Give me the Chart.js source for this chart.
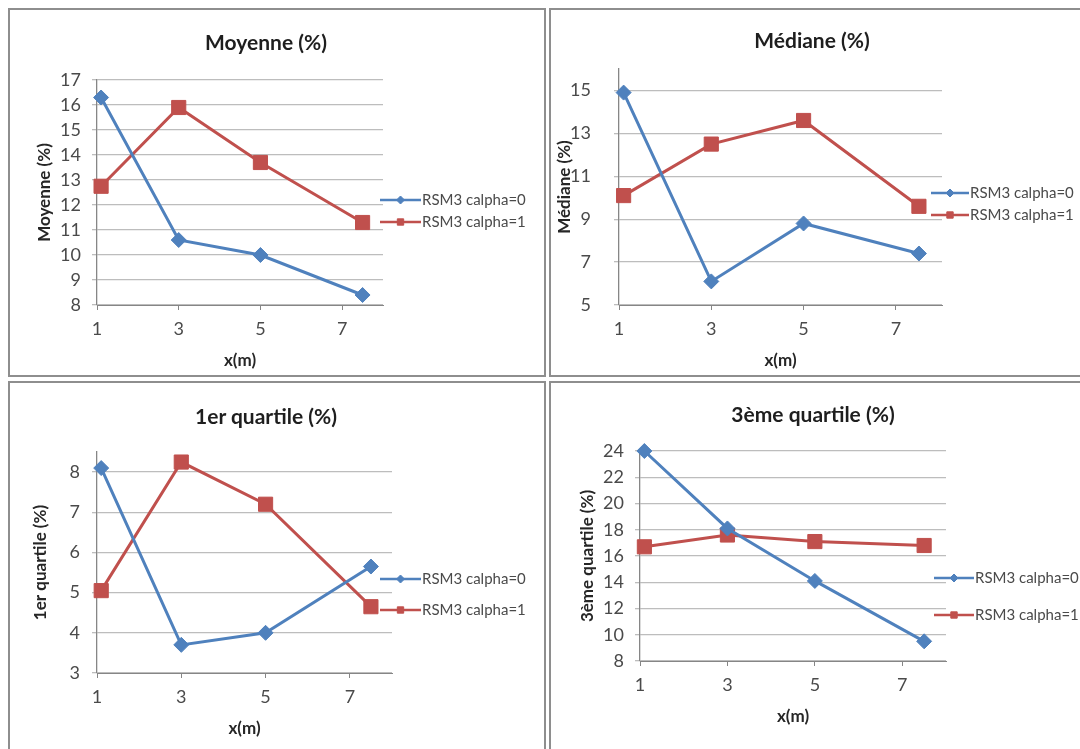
<!DOCTYPE html>
<html>
<head>
<meta charset="utf-8">
<title>RSM3 calpha</title>
<script src="https://cdn.jsdelivr.net/npm/chart.js@4.4.1/dist/chart.umd.min.js"></script>
<style>
  body { margin: 0; width: 1080px; height: 749px; overflow: hidden; background: #fff; position: relative; font-family: Lato, sans-serif; }
  .panel { position: absolute; box-sizing: border-box; border: 2px solid #8e8e8e; background: #fff; overflow: hidden; }
  .panel canvas { position: absolute; left: 0; top: 0; }
  .title { position: absolute; font: bold 21px Lato, sans-serif; color: #1e1e1e; transform: translate(-50%, -50%); white-space: nowrap; }
</style>
</head>
<body>
<div class="panel" style="left:8px;top:8px;width:538px;height:369px"><canvas id="c1" width="534" height="365"></canvas></div>
<div class="panel" style="left:549px;top:8px;width:540px;height:369px"><canvas id="c2" width="536" height="365"></canvas></div>
<div class="panel" style="left:8px;top:381px;width:538px;height:380px"><canvas id="c3" width="534" height="376"></canvas></div>
<div class="panel" style="left:549px;top:381px;width:540px;height:380px"><canvas id="c4" width="536" height="376"></canvas></div>

<div class="title" style="left:266px;top:41px">Moyenne (%)</div>
<div class="title" style="left:812px;top:39px">Médiane (%)</div>
<div class="title" style="left:266px;top:415px">1er quartile (%)</div>
<div class="title" style="left:813px;top:413px">3ème quartile (%)</div>

<script>
// données
const seriesNames = ['RSM3 calpha=0', 'RSM3 calpha=1'];
const xValues = [1.1, 3, 5, 7.5];
const xTicks = [1, 3, 5, 7];

const moyenneC0 = [16.3, 10.6, 10.0, 8.4];
const moyenneC1 = [12.75, 15.9, 13.7, 11.3];
const moyenneTicks = [8, 9, 10, 11, 12, 13, 14, 15, 16, 17];

const medianeC0 = [14.9, 6.1, 8.8, 7.4];
const medianeC1 = [10.1, 12.5, 13.6, 9.6];
const medianeTicks = [5, 7, 9, 11, 13, 15];

const q1C0 = [8.1, 3.7, 4.0, 5.65];
const q1C1 = [5.05, 8.25, 7.2, 4.65];
const q1Ticks = [3, 4, 5, 6, 7, 8];

const q3C0 = [24.0, 18.1, 14.1, 9.5];
const q3C1 = [16.7, 17.6, 17.1, 16.8];
const q3Ticks = [8, 10, 12, 14, 16, 18, 20, 22, 24];

const BLUE = '#4f81bd';
const RED = '#c0504d';
const GRID = '#bdbdbd';
const AXIS = '#868686';
const TEXT = '#4a4a4a';

// légende façon Excel (trait + marqueur)
const excelLegend = {
  id: 'excelLegend',
  afterDraw(chart, args, opts) {
    const ctx = chart.ctx;
    chart.data.datasets.forEach((ds, i) => {
      const y = opts.y[i];
      const x0 = opts.x;
      const x1 = opts.x + opts.len;
      ctx.save();
      ctx.strokeStyle = ds.borderColor;
      ctx.lineWidth = 2.5;
      ctx.beginPath();
      ctx.moveTo(x0, y);
      ctx.lineTo(x1, y);
      ctx.stroke();
      ctx.fillStyle = ds.borderColor;
      ctx.lineWidth = 1;
      Chart.helpers.drawPoint(ctx, {
        pointStyle: ds.pointStyle,
        radius: i === 0 ? 4 : 4.5,
        rotation: 0,
        borderWidth: 1
      }, (x0 + x1) / 2, y);
      ctx.fillStyle = TEXT;
      ctx.font = '15px Lato';
      ctx.textBaseline = 'middle';
      ctx.textAlign = 'left';
      ctx.fillText(ds.label, x1 + 1, y);
      ctx.restore();
    });
  }
};

function toPoints(values) {
  return values.map((v, i) => ({ x: xValues[i], y: v }));
}

function makeDataset(label, values, color, style, radius) {
  return {
    label: label,
    data: toPoints(values),
    borderColor: color,
    backgroundColor: color,
    borderWidth: 3,
    pointStyle: style,
    pointRadius: radius,
    pointBorderWidth: 1,
    pointHoverRadius: radius,
    tension: 0,
    clip: false
  };
}

function makePanel(id, p) {
  const ctx = document.getElementById(id).getContext('2d');
  new Chart(ctx, {
    type: 'line',
    data: {
      datasets: [
        makeDataset(seriesNames[0], p.c0, BLUE, 'rectRot', 7.5),
        makeDataset(seriesNames[1], p.c1, RED, 'rect', 10)
      ]
    },
    options: {
      responsive: false,
      animation: false,
      events: [],
      layout: { padding: { left: 0, right: p.padRight, top: p.padTop, bottom: 0 } },
      plugins: {
        legend: { display: false },
        tooltip: { enabled: false },
        excelLegend: p.legend
      },
      scales: {
        x: {
          type: 'linear',
          min: 1,
          max: 8,
          afterBuildTicks: s => { s.ticks = xTicks.map(v => ({ value: v })); },
          afterFit: s => { s.height = p.xHeight; },
          grid: { drawOnChartArea: false, drawTicks: true, tickLength: 5, color: AXIS },
          border: { color: AXIS, width: 1 },
          ticks: { font: { family: 'Lato', size: 18 }, color: TEXT, padding: 8, maxRotation: 0 },
          title: {
            display: true,
            text: 'x(m)',
            font: { family: 'Lato', size: 17, weight: 'bold' },
            color: '#262626',
            padding: { top: 0, bottom: p.xTitlePad }
          }
        },
        y: {
          min: p.yMin,
          max: p.yMax,
          afterBuildTicks: s => { s.ticks = p.yTicks.map(v => ({ value: v })); },
          afterFit: s => { s.width = p.yWidth; },
          grid: { color: GRID, lineWidth: 1.3, drawTicks: true, tickLength: 5 },
          border: { color: AXIS, width: 1.3 },
          ticks: { font: { family: 'Lato', size: 18 }, color: TEXT, padding: p.yTickPad },
          title: {
            display: true,
            text: p.yTitle,
            font: { family: 'Lato', size: 17, weight: 'bold' },
            color: '#262626',
            padding: { top: p.yTitlePad, bottom: 0 }
          }
        }
      }
    },
    plugins: [excelLegend]
  });
}

makePanel('c1', {
  c0: moyenneC0, c1: moyenneC1, yTicks: moyenneTicks, yMin: 8, yMax: 17,
  yTitle: 'Moyenne (%)', yWidth: 87, padRight: 161, padTop: 70, xHeight: 70,
  xTitlePad: 4, yTitlePad: 24, yTickPad: 11,
  legend: { x: 370, len: 41, y: [190, 212] }
});

makePanel('c2', {
  c0: medianeC0, c1: medianeC1, yTicks: medianeTicks, yMin: 5, yMax: 16,
  yTitle: 'Médiane (%)', yWidth: 68, padRight: 145, padTop: 59, xHeight: 70,
  xTitlePad: 4, yTitlePad: 3, yTickPad: 23,
  legend: { x: 380, len: 38, y: [183, 205] }
});

makePanel('c3', {
  c0: q1C0, c1: q1C1, yTicks: q1Ticks, yMin: 3, yMax: 8.5,
  yTitle: '1er quartile (%)', yWidth: 87, padRight: 152, padTop: 69, xHeight: 86,
  xTitlePad: 20, yTitlePad: 20, yTickPad: 12,
  legend: { x: 370, len: 41, y: [196, 227] }
});

makePanel('c4', {
  c0: q3C0, c1: q3C1, yTicks: q3Ticks, yMin: 8, yMax: 24,
  yTitle: '3ème quartile (%)', yWidth: 89, padRight: 141, padTop: 68, xHeight: 98,
  xTitlePad: 32, yTitlePad: 26, yTickPad: 11,
  legend: { x: 383, len: 40, y: [195, 232] }
});
</script>
</body>
</html>
